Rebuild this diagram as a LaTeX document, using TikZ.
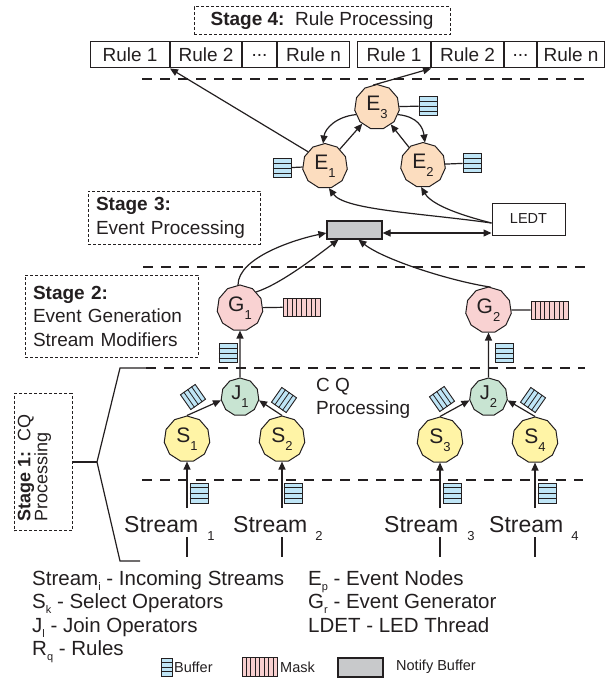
\documentclass[tikz,border=0pt]{standalone}
\usepackage{fontspec}
\setmainfont{Liberation Sans}
\usetikzlibrary{arrows.meta,shapes.geometric,calc}
\definecolor{cE}{HTML}{FCDDBF}
\definecolor{cG}{HTML}{F9D2D2}
\definecolor{cJ}{HTML}{C8E4D2}
\definecolor{cS}{HTML}{FFF4A6}
\definecolor{cBuf}{HTML}{BFE5F6}
\definecolor{cMask}{HTML}{F8CFCF}
\definecolor{cNot}{HTML}{C8C9CB}
\definecolor{ink}{HTML}{231F20}
\newcommand\fs[1]{\fontsize{#1}{#1}\selectfont}
\newcommand\nsub[1]{\raisebox{-8pt}{\fs{13}#1}}
\newcommand\lsub[1]{\raisebox{-5pt}{\fs{11}#1}}
\newcommand\BufAt[6]{% name, x, y, rotation, width, height
  \node[buf, rotate=#4, minimum width=#5pt, minimum height=#6pt] (#1) at (#2,#3) {};
  \foreach \f in {0.25,0.5,0.75}{\draw[line width=0.8pt, ink] ($(#1.south west)!\f!(#1.north west)$) -- ($(#1.south east)!\f!(#1.north east)$);}
}
\newcommand\MaskAt[5]{% name, x, y, width, height
  \node[mask, minimum width=#4pt, minimum height=#5pt] (#1) at (#2,#3) {};
  \foreach \f in {0.125,0.25,0.375,0.5,0.625,0.75,0.875}{\draw[line width=0.8pt, ink] ($(#1.south west)!\f!(#1.south east)$) -- ($(#1.north west)!\f!(#1.north east)$);}
}
\begin{document}
\begin{tikzpicture}[x=1pt,y=-1pt,
  every node/.style={text=ink},
  opnode/.style={regular polygon, regular polygon sides=11, draw=ink, line width=1pt, inner sep=0pt, minimum size=45pt, font=\fs{21}},
  Enode/.style={opnode, fill=cE},
  Gnode/.style={opnode, fill=cG, minimum size=46pt},
  Jnode/.style={opnode, fill=cJ, minimum size=38pt, font=\fs{20}},
  Snode/.style={opnode, fill=cS, minimum size=46pt},
  arr/.style={-{Triangle[length=8pt,width=7pt]}, line width=1.2pt, draw=ink},
  conn/.style={line width=1.2pt, draw=ink},
  sep/.style={dash pattern=on 10pt off 8pt, line width=1.3pt, draw=ink},
  stagebox/.style={draw=ink, dash pattern=on 3pt off 2pt, line width=1pt, inner sep=0pt},
  rulecell/.style={draw=ink, line width=1pt, minimum height=26pt, inner sep=0pt, anchor=west, font=\fs{19}},
  buf/.style={draw=ink, fill=cBuf, line width=0.9pt, inner sep=0pt},
  mask/.style={draw=ink, fill=cMask, line width=0.9pt, inner sep=0pt},
  legend/.style={anchor=base west, inner sep=0pt, font=\fs{20.5}},
  small/.style={anchor=west, inner sep=0pt, font=\fs{14.5}}
]
\useasboundingbox (0,0) rectangle (605,679);

% separators
\coordinate (d1a) at (142,79);  \coordinate (d1b) at (585,79);
\coordinate (d2a) at (143,267); \coordinate (d2b) at (585,267);
\coordinate (d3a) at (146,368); \coordinate (d3b) at (585,368);
\coordinate (d4a) at (142,480); \coordinate (d4b) at (583,480);
\draw[sep] (d1a) -- (d1b);
\draw[sep] (d2a) -- (d2b);
\draw[sep] (d3a) -- (d3b);
\draw[sep] (d4a) -- (d4b);

% stage 4 and rules
\node[stagebox, minimum width=256pt, minimum height=28pt, font=\fs{19}] (st4) at (322,21) {\textbf{Stage 4:}\ \ Rule Processing};
\node[rulecell, minimum width=79pt] (r11) at (90,55) {Rule 1};
\node[rulecell, minimum width=71pt] (r12) at (r11.east) {Rule 2};
\node[rulecell, minimum width=34pt] (r13) at (r12.east) {...};
\node[rulecell, minimum width=72pt] (r14) at (r13.east) {Rule n};
\node[rulecell, minimum width=73pt] (r21) at (357,55) {Rule 1};
\node[rulecell, minimum width=72pt] (r22) at (r21.east) {Rule 2};
\node[rulecell, minimum width=32pt] (r23) at (r22.east) {...};
\node[rulecell, minimum width=67pt] (r24) at (r23.east) {Rule n};

% stage boxes
\node[stagebox, minimum width=172pt, minimum height=53pt, align=left, text width=156pt, font=\fontsize{19}{24}\selectfont] (st3) at (174,217.5) {\textbf{Stage 3:}\\Event Processing};
\node[stagebox, minimum width=173pt, minimum height=82pt, align=left, text width=157pt, font=\fontsize{19}{23.5}\selectfont] (st2) at (111.5,316) {\textbf{Stage 2:}\\Event Generation\\Stream Modifiers};
\node[stagebox, minimum width=58pt, minimum height=137pt] (st1) at (43,462) {};
\node[rotate=90, anchor=west, align=left, inner sep=0pt, font=\fontsize{18}{17}\selectfont] (st1t) at (34.5,522) {\textbf{Stage 1:}\ \ CQ\\Processing};

% event nodes
\node[Enode] (E3) at (377,107) {E\nsub{3}};
\node[Enode] (E1) at (325,166) {E\nsub{1}};
\node[Enode] (E2) at (423,165) {E\nsub{2}};
\BufAt{bE3}{428}{106}{0}{18}{19}
\BufAt{bE1}{282}{168}{0}{18}{19}
\BufAt{bE2}{472}{163}{0}{18}{19}
\draw[conn] (E3) -- (bE3);
\draw[conn] (E1) -- (bE1);
\draw[conn] (E2) -- (bE2);
\draw[arr] (E3.200) .. controls +(-20,2) and +(2,-15) .. (E1.95);
\draw[arr] (E3.-20) .. controls +(20,2) and +(-2,-15) .. (E2.85);
\draw[arr] (E1) -- (E3);
\draw[arr] (E2) -- (E3);
\draw[arr] (E1.140) -- (r11.south east);
\draw[arr] (E3.100) -- (r21.south east);

% LEDT and notify buffer
\node[draw=ink, line width=1pt, minimum width=73pt, minimum height=32pt, font=\fs{14.5}] (ledt) at (528.5,219) {LEDT};
\node[draw=ink, fill=cNot, line width=1.2pt, minimum width=55pt, minimum height=18pt, inner sep=0pt] (nb) at (354.5,230) {};
\coordinate (lw) at ($(ledt.west)+(0,4)$);
\draw[arr] (lw) .. controls (420,213) and (345,210) .. (E1.-80);
\draw[arr] (lw) .. controls (460,215) and (432,205) .. (E2.-95);
\draw[{Triangle[length=8pt,width=7pt]}-{Triangle[length=8pt,width=7pt]}, conn] ([yshift=-3pt]nb.east) -- ([yshift=-3pt]nb.east -| ledt.west);

% generators
\node[Gnode] (G1) at (240,308) {G\nsub{1}};
\node[Gnode] (G2) at (488.5,310) {G\nsub{2}};
\MaskAt{m1}{301.5}{307}{37}{18}
\MaskAt{m2}{549.5}{310}{37}{18}
\draw[conn] (G1) -- (m1);
\draw[conn] (G2) -- (m2);
\draw[arr] (G1.95) .. controls +(0,-28) and +(-30,6) .. ([yshift=-3pt]nb.west);
\draw[arr] (G1.45) .. controls +(25,-8) and +(-20,15) .. ([xshift=-16pt]nb.south);
\draw[arr] (G2.85) .. controls +(-40,-6) and +(25,20) .. ([xshift=4pt]nb.south);
\BufAt{bG1}{228}{353}{0}{18}{19}
\BufAt{bG2}{504}{353}{0}{18}{19}

% join and select
\node[Jnode] (J1) at (240,397) {J\nsub{1}};
\node[Jnode] (J2) at (488.5,397) {J\nsub{2}};
\draw[arr] (J1) -- (G1);
\draw[arr] (J2) -- (G2);
\node[Snode] (S1) at (187,439) {S\nsub{1}};
\node[Snode] (S2) at (282,439) {S\nsub{2}};
\node[Snode] (S3) at (440,440) {S\nsub{3}};
\node[Snode] (S4) at (535,440) {S\nsub{4}};
\draw[arr] (S1.north) -- (J1.190);
\draw[arr] (S2.north) -- (J1.-10);
\draw[arr] (S3.north) -- (J2.190);
\draw[arr] (S4.north) -- (J2.-10);
\BufAt{bJ1a}{193}{397}{-55}{18}{18}
\BufAt{bJ1b}{284}{400}{55}{18}{18}
\BufAt{bJ2a}{442}{399}{-55}{18}{18}
\BufAt{bJ2b}{533}{400}{55}{18}{18}
\node[anchor=west, align=left, inner sep=0pt, font=\fontsize{19}{23}\selectfont] (cq) at (316,398.5) {C Q\\Processing};

% streams
\coordinate (in1) at (187,508); \coordinate (in2) at (282,508);
\coordinate (in3) at (440,508); \coordinate (in4) at (535,508);
\draw[arr] (in1) -- (S1);
\draw[arr] (in2) -- (S2);
\draw[arr] (in3) -- (S3);
\draw[arr] (in4) -- (S4);
\BufAt{bS1}{199}{493}{0}{18}{20}
\BufAt{bS2}{293}{493}{0}{18}{20}
\BufAt{bS3}{452}{493}{0}{18}{20}
\BufAt{bS4}{547}{493}{0}{18}{20}
\node[anchor=base west, inner sep=0pt, font=\fs{23}] (lab1) at (124,532) {Stream\hspace{9pt}\nsub{1}};
\node[anchor=base west, inner sep=0pt, font=\fs{23}] (lab2) at (233,532) {Stream\hspace{8pt}\nsub{2}};
\node[anchor=base west, inner sep=0pt, font=\fs{23}] (lab3) at (384,532) {Stream\hspace{9pt}\nsub{3}};
\node[anchor=base west, inner sep=0pt, font=\fs{23}] (lab4) at (489,532) {Stream\hspace{8pt}\nsub{4}};
\foreach \x/\n in {187/1,282/2,440/3,535/4}{
  \coordinate (lo\n a) at (\x,537); \coordinate (lo\n b) at (\x,557);
  \draw[line width=1.2pt, ink] (lo\n a) -- (lo\n b);
}

% stage 1 bracket
\coordinate (brk) at (97,462);
\coordinate (brkT) at (120,368); \coordinate (brkTe) at (146,368);
\coordinate (brkB) at (120,561); \coordinate (brkBe) at (140,561);
\draw[line width=1.8pt, ink] (st1.east) -- (brk);
\draw[conn] (brk) -- (brkT) -- (brkTe);
\draw[conn] (brk) -- (brkB) -- (brkBe);

% legend
\node[legend] (lg1) at (32,585) {Stream\lsub{i} - Incoming Streams};
\node[legend] (lg2) at (32,608.5) {S\lsub{k} - Select Operators};
\node[legend] (lg3) at (32,632) {J\lsub{l} - Join Operators};
\node[legend] (lg4) at (32,655.5) {R\lsub{q} - Rules};
\node[legend] (lg5) at (308,585) {E\lsub{p} - Event Nodes};
\node[legend] (lg6) at (308,608.5) {G\lsub{r} - Event Generator};
\node[legend] (lg7) at (308,632) {LDET - LED Thread};
\BufAt{lgb}{167}{667}{0}{11}{18}
\node[small] (lgbt) at (174,667) {Buffer};
\MaskAt{lgm}{259.5}{667}{35}{19}
\node[small] (lgmt) at (280,667) {Mask};
\node[draw=ink, fill=cNot, line width=1.2pt, minimum width=45pt, minimum height=19pt, inner sep=0pt] (lgn) at (360.5,667.5) {};
\node[small] (lgnt) at (396,667) {Notify Buffer};
\end{tikzpicture}
\end{document}
